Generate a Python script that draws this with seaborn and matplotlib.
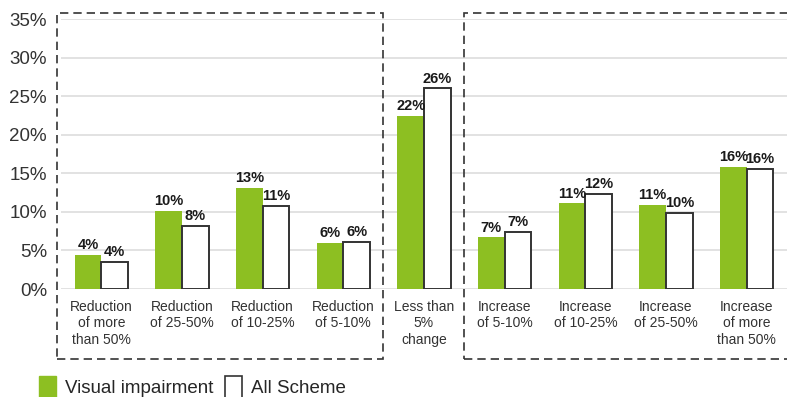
import pandas as pd
import seaborn as sns
import matplotlib.pyplot as plt
from matplotlib.patches import Rectangle, Patch
from matplotlib.transforms import blended_transform_factory

categories = ["Reduction\nof more\nthan 50%", "Reduction\nof 25-50%", "Reduction\nof 10-25%",
              "Reduction\nof 5-10%", "Less than\n5%\nchange", "Increase\nof 5-10%",
              "Increase\nof 10-25%", "Increase\nof 25-50%", "Increase\nof more\nthan 50%"]
visual = [4.4, 10.1, 13.1, 6.0, 22.4, 6.7, 11.1, 10.9, 15.8]
all_scheme = [3.5, 8.2, 10.8, 6.1, 26.0, 7.4, 12.3, 9.9, 15.6]
series = ["Visual impairment", "All Scheme"]
yticks = [0, 5, 10, 15, 20, 25, 30, 35]

green = "#8dbf22"
df = pd.DataFrame({
    "cat": categories * 2,
    "value": visual + all_scheme,
    "series": [series[0]] * len(categories) + [series[1]] * len(categories),
})

sns.set_style("white")
plt.rcParams["font.family"] = ["Liberation Sans", "DejaVu Sans"]

fig = plt.figure(figsize=(7.87, 3.97), dpi=100)
ax = fig.add_axes([61 / 787, 1 - 289 / 397, 1 - 61 / 787, 270 / 397])

sns.barplot(data=df, x="cat", y="value", hue="series", order=categories,
            hue_order=series, palette={series[0]: green, series[1]: "white"},
            saturation=1, width=0.66, gap=0, legend=False, ax=ax)

for i, cont in enumerate(ax.containers):
    for bar in cont:
        if i == 0:
            bar.set_edgecolor(green)
            bar.set_linewidth(0)
        else:
            bar.set_edgecolor("#333333")
            bar.set_linewidth(1.4)
    ax.bar_label(cont, fmt="{:.0f}%", padding=2, fontsize=10.5, fontweight="bold",
                 color="#1a1a1a")

ax.set_ylim(0, 35)
ax.set_xlim(-0.5, 8.5)
ax.set_yticks(yticks)
ax.set_yticklabels([f"{t}%" for t in yticks], fontsize=13.5, color="#333333")
ax.set_xticks(range(len(categories)))
ax.set_xticklabels(categories, fontsize=10, color="#333333", linespacing=1.2)
ax.tick_params(axis="both", length=0)
ax.tick_params(axis="x", pad=8)
ax.tick_params(axis="y", pad=10)
ax.set_xlabel("")
ax.set_ylabel("")
ax.grid(axis="y", color="#dddddd", linewidth=1.2)
ax.set_axisbelow(True)
sns.despine(ax=ax, left=True, bottom=True)

trans = blended_transform_factory(ax.transData, ax.transAxes)
for x0, x1 in [(-0.545, 3.494), (4.498, 8.6)]:
    ax.add_patch(Rectangle((x0, -0.259), x1 - x0, 1.281, transform=trans, fill=False,
                           edgecolor="#333333", linewidth=1.2, linestyle=(0, (5, 3)),
                           clip_on=False))

handles = [Patch(facecolor=green, edgecolor=green, label=series[0]),
           Patch(facecolor="white", edgecolor="#333333", linewidth=1.2, label=series[1])]
fig.legend(handles=handles, loc="lower left", bbox_to_anchor=(0.028, -0.045), ncol=2,
           frameon=False, fontsize=13.5, handlelength=0.9, handleheight=1.4,
           handletextpad=0.5, columnspacing=0.6)

fig.savefig("out.png", dpi=100)
